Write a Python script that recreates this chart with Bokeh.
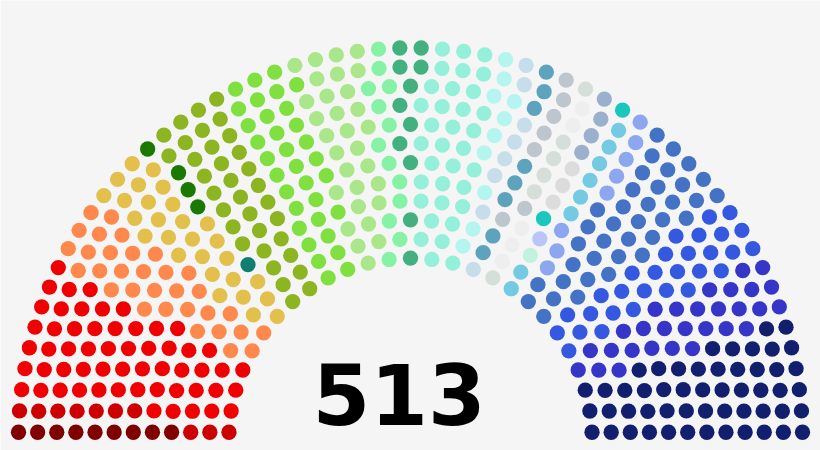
import math
from bokeh.plotting import figure
from bokeh.models import ColumnDataSource, Range1d
from bokeh.core.properties import value
from bokeh.embed import file_html
from bokeh.resources import INLINE

# ---- data: seats per party, in the order they are laid out (left to right) ----
parties = ["PCdoB", "PSOL", "PT", "PSB", "PDT", "REDE", "PV", "MDB", "PR", "PRB",
           "SD", "PODE", "PSD", "PTB", "PPS", "PROS", "AVANTE", "PHS", "PATRI", "PRP",
           "PMN", "PTC", "DC", "PPL", "PSC", "NOVO", "PP", "PSDB", "DEM", "PSL"]
seats = [9, 10, 56, 32, 28, 1, 4, 34, 33, 30,
         13, 11, 34, 10, 8, 8, 7, 6, 5, 4,
         3, 2, 1, 1, 8, 8, 37, 29, 29, 52]
colors = ["#800000", "#CC0000", "#F00000", "#FF884D", "#E3C04C", "#0F8070", "#1A7A00", "#8DB421", "#7FE040", "#AAE78A",
          "#85F2A5", "#42B07F", "#95F0DA", "#B5F5F0", "#C6DDEA", "#5DA3BD", "#BCC6CC", "#D6DEDA", "#EEEEEE", "#9BB0CC",
          "#DCDCDC", "#1BC6BC", "#BBC6F7", "#C2F2DE", "#74CAE3", "#8CA6F0", "#4472C4", "#3558E0", "#3535C8", "#111F6E"]

# ---- parliament-diagram layout (seat positions derived from the seat total) ----
TOTALS = [3, 15, 33, 61, 95, 138, 189, 247, 313, 388, 469, 559, 657, 762, 876, 997]
n_seats = sum(seats)
rows = next(i + 1 for i, t in enumerate(TOTALS) if t >= n_seats)
dot_r = 0.4 / rows


def arc(J, R):
    out = []
    if J == 1:
        out.append((math.pi / 2.0, 0.0, R))
    else:
        for j in range(J):
            a = j * (math.pi - 2.0 * math.sin(dot_r / R)) / (J - 1.0) + math.sin(dot_r / R)
            out.append((a, R * math.cos(a), R * math.sin(a)))
    return out


pos = []
for i in range(1, rows):
    J = int(float(n_seats) / TOTALS[rows - 1] * math.pi / (2 * math.asin(2.0 / (3.0 * rows + 4.0 * i - 2.0))))
    R = (3.0 * rows + 4.0 * i - 2.0) / (4.0 * rows)
    pos += arc(J, R)
pos += arc(n_seats - len(pos), (7.0 * rows - 2.0) / (4.0 * rows))
pos.sort(reverse=True)

xs, ys, cs, names = [], [], [], []
k = 0
for name, n, c in zip(parties, seats, colors):
    for _ in range(n):
        xs.append(pos[k][1])
        ys.append(pos[k][2])
        cs.append(c)
        names.append(name)
        k += 1

src = ColumnDataSource(dict(x=xs, y=ys, color=cs, party=names))

# ---- figure ----
W, H = 820, 450
SCALE = 229.5          # pixels per layout unit
CX, CY = 410.0, 439.4  # centre of the hemicycle inside the figure, pixels
p = figure(width=W, height=H, output_backend="svg", toolbar_location=None,
           x_range=Range1d(-CX / SCALE, (W - CX) / SCALE),
           y_range=Range1d(-(H - CY) / SCALE, CY / SCALE),
           x_axis_location=None, y_axis_location=None, min_border=0)
p.grid.visible = False
p.outline_line_color = None
p.background_fill_color = "#F5F5F5"
p.border_fill_color = "#F5F5F5"

p.circle(x="x", y="y", radius=dot_r, fill_color="color", line_color=None, source=src)

p.text(x=[-0.05], y=[0.198], text=[str(n_seats)], text_font=value("DejaVu Sans"),
       text_font_style="bold", text_font_size="83px", text_align="center",
       text_baseline="alphabetic", text_color="#000000")

open("out.html", "w").write(file_html(p, INLINE))
